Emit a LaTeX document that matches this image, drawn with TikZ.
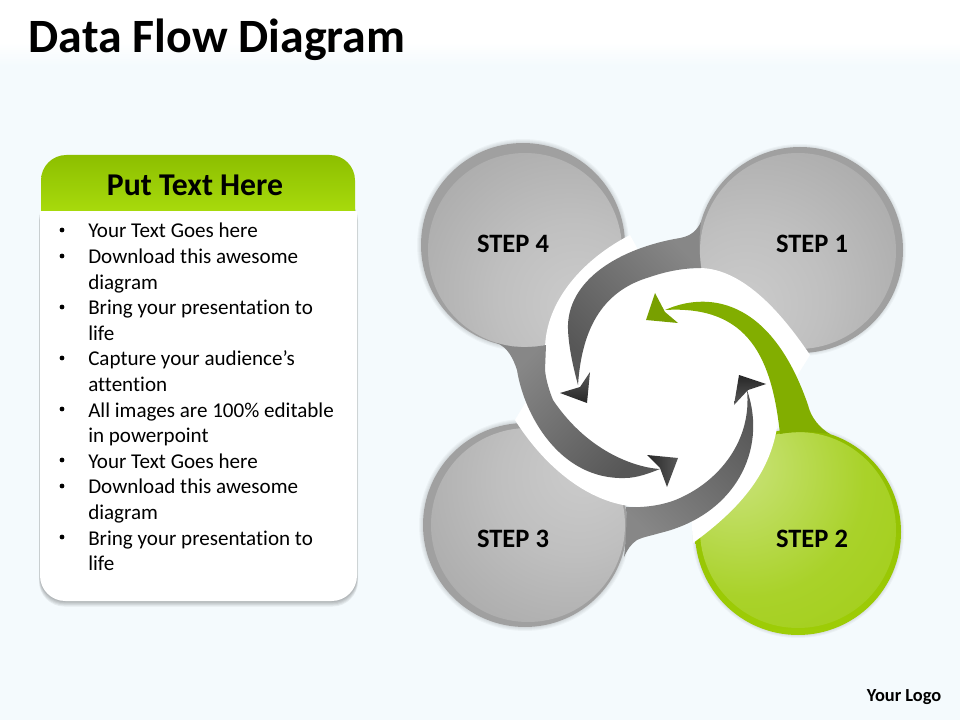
\documentclass[tikz,border=0pt]{standalone}
\usepackage{fontspec}
\setmainfont[Ligatures=CommonOff]{Carlito}
\definecolor{bgblue}{HTML}{F4FAFD}
\definecolor{ringgray}{HTML}{A0A0A0}
\definecolor{armgreen}{HTML}{82AE00}
\definecolor{ringgreen}{HTML}{9ACA04}
\definecolor{ringtop}{HTML}{8FBC00}
\definecolor{ringbot}{HTML}{9ECD06}
\definecolor{headtop}{HTML}{8CBF00}
\definecolor{headbot}{HTML}{A8DA0C}
\pgfdeclareradialshading{grayface}{\pgfpoint{0bp}{-22bp}}{color(0bp)=(black!20); color(20bp)=(black!25); color(45bp)=(black!34); color(72bp)=(black!36); color(100bp)=(black!36)}
\pgfdeclareradialshading{greenface}{\pgfpoint{0bp}{-26bp}}{color(0bp)=(white!50!ringgreen); color(30bp)=(white!15!ringgreen); color(60bp)=(ringgreen!96!white); color(100bp)=(ringgreen!96!white)}
\tikzset{
  glow/.style={fill=black, opacity=0.03},
  armshade/.style={top color=black!47, bottom color=black!66, shading angle=#1},
  headshade/.style={top color=black!65, bottom color=black!85, shading angle=#1},
  steplabel/.style={font=\fontsize{19.9}{24}\bfseries\selectfont},
}
\begin{document}
\begin{tikzpicture}[x=0.75pt, y=-0.75pt]
\useasboundingbox (0,0) rectangle (960,720);
\fill[white] (0,0) rectangle (960,720);
\shade[top color=white, bottom color=bgblue] (0,42) rectangle (960,66);
\shade[top color=bgblue, middle color=white, bottom color=bgblue] (0,66) rectangle (960,720);

\node[anchor=base west, font=\fontsize{35.9}{42}\bfseries\selectfont] (title) at (24,53) {Data Flow Diagram};

% text panel
\foreach \d in {1,2,3,4,5}
  \fill[black, opacity=0.06, rounded corners=19pt] (40-\d*0.2,195) rectangle (357+\d*0.2,601+\d*1.1);
\fill[white] (40,211) [rounded corners=19pt] -- (40,601) -- (357,601) [sharp corners] -- (357,211) -- cycle;
\shade[top color=headtop, bottom color=headbot] (41,211) [rounded corners=19pt] -- (41,155) -- (355,155) [sharp corners] -- (355,211) -- cycle;
\node[font=\fontsize{23.8}{28}\bfseries\selectfont] (header) at (195,185) {Put Text Here};
\node[anchor=north west, align=left, inner sep=0pt, font=\fontsize{15.8}{19.2}\selectfont] (list) at (88,223) {Your Text Goes here\\
Download this awesome\\
diagram\\
Bring your presentation to\\
life\\
Capture your audience’s\\
attention\\
All images are 100\% editable\\
in powerpoint\\
Your Text Goes here\\
Download this awesome\\
diagram\\
Bring your presentation to\\
life};
\foreach \y in {230,256,307,358,409,460,486,537}
  \fill[black] (62,\y) circle (2.4);

% step circles
\foreach \cx/\cy in {523/245,800/250,525/525,798/532}
  \foreach \d in {4,3,2,1}
    \fill[glow] (\cx,\cy) circle (102+\d);
\fill[ringgray] (523,245) circle (102);
\fill[ringgray] (800,250) circle (103);
\fill[ringgray] (525,525) circle (102);
\shade[top color=ringtop, bottom color=ringbot] (798,532) circle (103);
\shade[shading=grayface, shading angle=45] (525,250) circle (97);
\shade[shading=grayface, shading angle=315] (798,251) circle (98);
\shade[shading=grayface, shading angle=135] (528,525) circle (97);
\shade[shading=greenface, shading angle=225] (798,530) circle (98);

% white centre
\fill[white] (630,235) .. controls (585,258) and (545,300) .. (545,350) -- (545,370) -- (515,420)
  .. controls (540,460) and (585,505) .. (640,507) .. controls (660,506) and (675,503) .. (690,495) -- (693,543)
  .. controls (745,505) and (778,465) .. (779,405) -- (810,355)
  .. controls (785,318) and (745,268) .. (699,268) -- (650,272) -- cycle;

% arms
\shade[armshade=315] (701,222) .. controls (696,232) and (690,236) .. (680,238)
  .. controls (620,248) and (566,280) .. (568,330) .. controls (569,350) and (574,370) .. (578,385)
  .. controls (582,325) and (605,290) .. (650,277)
  .. controls (670,270) and (688,268) .. (701,268) .. controls (699,255) and (699,235) .. (701,222) -- cycle;
\shade[armshade=45] (497,343) .. controls (508,348) and (513,358) .. (517,370)
  .. controls (524,415) and (560,480) .. (625,478) .. controls (637,478) and (650,473) .. (660,469)
  .. controls (640,468) and (590,455) .. (553,400) .. controls (549,390) and (546,380) .. (545,370)
  -- (546,345) .. controls (530,348) and (512,348) .. (497,343) -- cycle;
\shade[armshade=135] (626,507) .. controls (645,508) and (665,505) .. (680,498)
  .. controls (720,480) and (752,440) .. (747,390)
  .. controls (768,450) and (735,515) .. (660,533) .. controls (650,536) and (643,537) .. (637,540)
  .. controls (631,544) and (627,550) .. (624,557) .. controls (626,540) and (627,520) .. (626,507) -- cycle;
\fill[armgreen] (665,310) .. controls (705,292) and (770,295) .. (808,405)
  .. controls (811,418) and (820,428) .. (830,434) .. controls (815,432) and (795,431) .. (780,434)
  .. controls (772,360) and (750,305) .. (665,310) -- cycle;

% arrow heads
\shade[headshade=0] (587,403) -- (590,372) -- (580,387) -- (560,393) -- cycle;
\shade[headshade=270] (678,458) -- (647,455) -- (660,468) -- (667,487) -- cycle;
\shade[headshade=180] (739,375) -- (766,384) -- (748,390) -- (734,405) -- cycle;
\fill[armgreen!92!black] (646,320) -- (655,293) -- (665,312) -- (678,323) -- cycle;

\node[steplabel] (step4) at (513,244) {STEP 4};
\node[steplabel] (step1) at (812,244) {STEP 1};
\node[steplabel] (step3) at (513,539) {STEP 3};
\node[steplabel] (step2) at (812,539) {STEP 2};
\node[anchor=base east, font=\fontsize{13.8}{16}\bfseries\selectfont] (logo) at (946,701) {Your Logo};
\end{tikzpicture}
\end{document}
